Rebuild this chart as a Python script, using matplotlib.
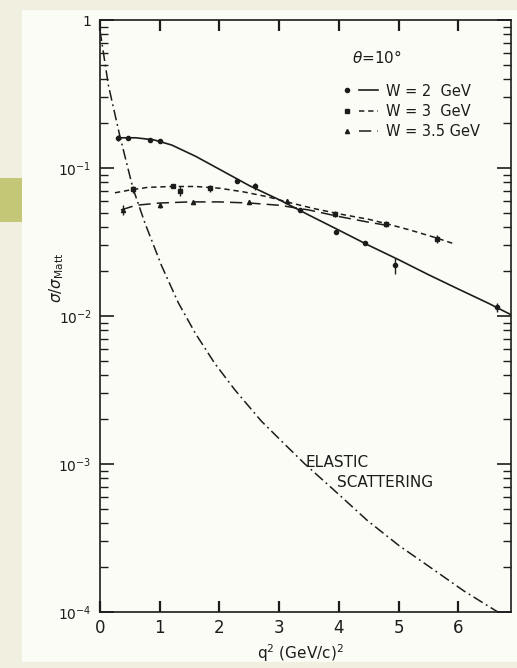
import numpy as np
import matplotlib
matplotlib.use("Agg")
import matplotlib.pyplot as plt
from matplotlib.lines import Line2D
from matplotlib.legend_handler import HandlerTuple
from matplotlib.patches import Rectangle
from matplotlib.ticker import FixedLocator, LogLocator, NullFormatter, FuncFormatter

# --- data ---
# elastic scattering curve
x_el = [0.0, 0.14, 0.33, 0.55, 0.75, 1.03, 1.31, 1.60, 1.92, 2.26, 2.70, 3.10, 3.43,
        3.90, 4.47, 5.00, 5.57, 6.10, 6.74]
y_el = [0.85, 0.363, 0.166, 0.0733, 0.0427, 0.0219, 0.0123, 0.00759, 0.00479, 0.00316,
        0.00195, 0.00135, 0.00100, 0.000676, 0.000417, 0.000282, 0.000195, 0.000138, 0.0000955]

# W = 2 GeV
x_w2_line = [0.30, 0.60, 0.90, 1.20, 1.60, 2.00, 2.50, 3.00, 3.50, 4.00, 4.50, 5.00, 5.50, 6.00, 6.50, 6.88]
y_w2_line = [0.160, 0.160, 0.155, 0.143, 0.120, 0.098, 0.076, 0.061, 0.048, 0.038, 0.030,
             0.024, 0.019, 0.0152, 0.0122, 0.0102]
x_w2 = [0.30, 0.47, 0.84, 1.00, 2.29, 2.60, 3.35, 3.95, 4.44, 4.94, 6.65]
y_w2 = [0.160, 0.160, 0.155, 0.152, 0.082, 0.075, 0.052, 0.037, 0.031, 0.022, 0.0115]
e_w2 = [0.008, 0, 0, 0, 0, 0.004, 0, 0, 0, 0.0028, 0.0008]

# W = 3 GeV
x_w3_line = [0.25, 0.50, 0.80, 1.20, 1.60, 2.00, 2.40, 2.80, 3.20, 3.60, 4.00, 4.50, 4.80, 5.20, 5.60, 5.90]
y_w3_line = [0.068, 0.071, 0.074, 0.075, 0.075, 0.073, 0.069, 0.064, 0.058, 0.053, 0.049,
             0.045, 0.042, 0.038, 0.034, 0.031]
x_w3 = [0.55, 1.23, 1.34, 1.84, 3.93, 4.79, 5.64]
y_w3 = [0.072, 0.076, 0.070, 0.073, 0.049, 0.042, 0.033]
e_w3 = [0.004, 0, 0.005, 0.004, 0.002, 0.002, 0.002]

# W = 3.5 GeV
x_w35_line = [0.35, 0.60, 1.00, 1.50, 2.00, 2.50, 3.00, 3.50, 4.00, 4.50, 4.80]
y_w35_line = [0.052, 0.056, 0.058, 0.059, 0.059, 0.058, 0.056, 0.052, 0.047, 0.043, 0.041]
x_w35 = [0.38, 1.00, 1.56, 2.50, 3.13]
y_w35 = [0.052, 0.056, 0.059, 0.059, 0.060]
e_w35 = [0.004, 0.002, 0, 0.002, 0.002]

xticks = [0, 1, 2, 3, 4, 5, 6]
yticks = [1e-4, 1e-3, 1e-2, 1e-1, 1]
ytick_labels = {1e-4: r"$10^{-4}$", 1e-3: r"$10^{-3}$", 1e-2: r"$10^{-2}$", 1e-1: r"$10^{-1}$", 1: "1"}

plt.rcParams["font.family"] = ["DejaVu Sans"]
ink = "#1c1c1c"

fig = plt.figure(figsize=(5.17, 6.68), dpi=100, facecolor="#fcfcf6")
# scan borders
fig.patches.append(Rectangle((0, 0), 22 / 517, 1, transform=fig.transFigure,
                             facecolor="#f1efdf", edgecolor="none", zorder=0))
fig.patches.append(Rectangle((0, 1 - 10 / 668), 1, 10 / 668, transform=fig.transFigure,
                             facecolor="#f1efdf", edgecolor="none", zorder=0))
fig.patches.append(Rectangle((0, 0), 1, 6 / 668, transform=fig.transFigure,
                             facecolor="#f1efdf", edgecolor="none", zorder=0))
fig.patches.append(Rectangle((0, 1 - 222 / 668), 22 / 517, 44 / 668, transform=fig.transFigure,
                             facecolor="#c4c775", edgecolor="none", zorder=1))

ax = fig.add_axes([100 / 517, 1 - 612 / 668, 411 / 517, 592 / 668])
ax.set_facecolor("white")
ax.patch.set_alpha(0)

ax.plot(x_el, y_el, color=ink, lw=1.1, ls=(0, (7, 2.5, 1.2, 2.5)))
ax.plot(x_w2_line, y_w2_line, color=ink, lw=1.2, ls="-")
ax.plot(x_w3_line, y_w3_line, color=ink, lw=1.1, ls=(0, (3.5, 2.5)))
ax.plot(x_w35_line, y_w35_line, color=ink, lw=1.1, ls=(0, (8, 4)))

ax.errorbar(x_w2, y_w2, yerr=e_w2, fmt="o", ms=3, color=ink, elinewidth=1.0, capsize=0)
ax.errorbar(x_w3, y_w3, yerr=e_w3, fmt="s", ms=2.6, color=ink, elinewidth=1.0, capsize=0)
ax.errorbar(x_w35, y_w35, yerr=e_w35, fmt="^", ms=3, color=ink, elinewidth=1.0, capsize=0)

ax.set_yscale("log")
ax.set_xlim(0, 6.88)
ax.set_ylim(1e-4, 1.0)

for s in ax.spines.values():
    s.set_color(ink)
    s.set_linewidth(1.2)

ax.xaxis.set_major_locator(FixedLocator(xticks))
ax.set_xticklabels([str(v) for v in xticks])
ax.yaxis.set_major_locator(FixedLocator(yticks))
ax.yaxis.set_major_formatter(FuncFormatter(lambda v, p: ytick_labels.get(v, "")))
ax.yaxis.set_minor_locator(LogLocator(base=10, subs=np.arange(2, 10)))
ax.yaxis.set_minor_formatter(NullFormatter())

ax.tick_params(axis="x", which="major", direction="in", length=8, width=1.6,
               top=True, bottom=True, labelsize=12, pad=5, colors=ink)
ax.tick_params(axis="y", which="major", direction="in", length=10, width=1.2,
               left=True, right=True, labelsize=10, pad=6, colors=ink)
ax.tick_params(axis="y", which="minor", direction="in", length=6, width=1.0,
               left=True, right=True, colors=ink)

ax.text(0.613, 0.937, r"$\theta$=10$\degree$", transform=ax.transAxes, fontsize=11,
        color=ink, va="center", ha="left")

m2 = Line2D([], [], marker="o", ms=3, ls="none", color=ink)
l2 = Line2D([], [], ls="-", lw=1.2, color=ink)
m3 = Line2D([], [], marker="s", ms=2.6, ls="none", color=ink)
l3 = Line2D([], [], ls=(0, (3.5, 2.5)), lw=1.1, color=ink)
m35 = Line2D([], [], marker="^", ms=3, ls="none", color=ink)
l35 = Line2D([], [], ls=(0, (8, 4)), lw=1.1, color=ink)
leg = ax.legend([(m2, l2), (m3, l3), (m35, l35)],
                ["W = 2  GeV", "W = 3  GeV", "W = 3.5 GeV"],
                handler_map={tuple: HandlerTuple(ndivide=None, pad=0.2)},
                loc="upper left", bbox_to_anchor=(0.56, 0.905), frameon=False,
                fontsize=10.5, handlelength=2.8, handletextpad=0.5, labelspacing=0.35,
                borderpad=0, labelcolor=ink)

ax.text(0.499, 0.253, "ELASTIC", transform=ax.transAxes, fontsize=11, color=ink,
        va="center", ha="left")
ax.text(0.577, 0.218, "SCATTERING", transform=ax.transAxes, fontsize=11, color=ink,
        va="center", ha="left")

ax.set_xlabel(r"q$^2$ (GeV/c)$^2$", fontsize=11, color=ink)
ax.xaxis.set_label_coords(0.487, -0.052)
ax.set_ylabel(r"$\sigma/\sigma_{\rm Matt}$", fontsize=11, color=ink)
ax.yaxis.set_label_coords(-0.083, 0.565)

fig.savefig("out.png", dpi=100, facecolor=fig.get_facecolor())
